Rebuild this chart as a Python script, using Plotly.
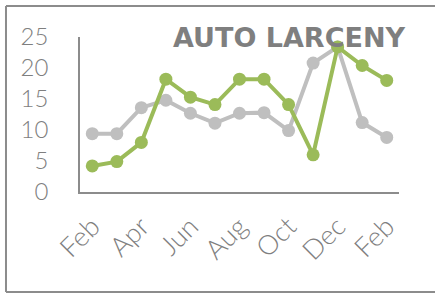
import plotly.graph_objects as go

months = ["Feb", "Mar", "Apr", "May", "Jun", "Jul", "Aug", "Sep", "Oct", "Nov", "Dec", "Jan", "Feb "]
tick_vals = ["Feb", "Apr", "Jun", "Aug", "Oct", "Dec", "Feb "]
tick_text = ["Feb", "Apr", "Jun", "Aug", "Oct", "Dec", "Feb"]
prior_year = [9.4, 9.4, 13.6, 14.8, 12.7, 11.1, 12.7, 12.8, 9.9, 20.8, 23.4, 11.2, 8.8]
current_year = [4.2, 4.9, 8.0, 18.2, 15.3, 14.1, 18.2, 18.2, 14.1, 6.0, 23.4, 20.4, 18.0]

y_tick_font = dict(family="Lato", size=24, color="#7F7F7F", weight=300)
x_tick_font = dict(family="Lato", size=27, color="#7F7F7F", weight=300)

fig = go.Figure()
fig.add_trace(go.Scatter(
    x=months, y=prior_year, mode="lines+markers",
    line=dict(color="#BFBFBF", width=4),
    marker=dict(color="#BFBFBF", size=13),
    showlegend=False, cliponaxis=False))
fig.add_trace(go.Scatter(
    x=months, y=current_year, mode="lines+markers",
    line=dict(color="#9BBB59", width=4),
    marker=dict(color="#9BBB59", size=13),
    showlegend=False, cliponaxis=False))

fig.update_layout(
    width=435, height=293,
    margin=dict(l=80, r=36, t=37, b=101),
    paper_bgcolor="white", plot_bgcolor="white",
    font=dict(family="DejaVu Sans", color="#808080"),
    xaxis=dict(
        type="category", range=[-0.5, 12.5], automargin=False,
        tickmode="array", tickvals=tick_vals, ticktext=tick_text,
        tickangle=-45, tickfont=x_tick_font,
        showline=True, linecolor="#8C8C8C", linewidth=2,
        showgrid=False, zeroline=False, ticks="",
        ticklabelstandoff=6,
    ),
    yaxis=dict(
        range=[0, 25], tickmode="array", tickvals=[0, 5, 10, 15, 20, 25],
        tickfont=y_tick_font, automargin=False,
        showline=True, linecolor="#8C8C8C", linewidth=1.5,
        showgrid=False, zeroline=False, ticks="",
        ticklabelstandoff=25,
    ),
    annotations=[dict(
        text="<b>AUTO LARCENY</b>", xref="paper", yref="paper",
        x=1.028, y=1.0, xanchor="right", yanchor="middle",
        showarrow=False, font=dict(family="DejaVu Sans", size=27, color="#7F7F7F"),
    )],
    shapes=[
        dict(type="line", xref="paper", yref="paper", x0=-0.232, x1=1.2, y0=1.2, y1=1.2,
             line=dict(color="#8C8C8C", width=2)),
        dict(type="line", xref="paper", yref="paper", x0=-0.232, x1=-0.232, y0=1.2, y1=-0.645,
             line=dict(color="#8C8C8C", width=2)),
        dict(type="line", xref="paper", yref="paper", x0=-0.232, x1=1.2, y0=-0.645, y1=-0.645,
             line=dict(color="#8C8C8C", width=2)),
    ],
)

fig.write_html("out.html", config={"displayModeBar": False},
               post_script="document.body.style.margin='0';document.body.style.overflow='hidden';")
